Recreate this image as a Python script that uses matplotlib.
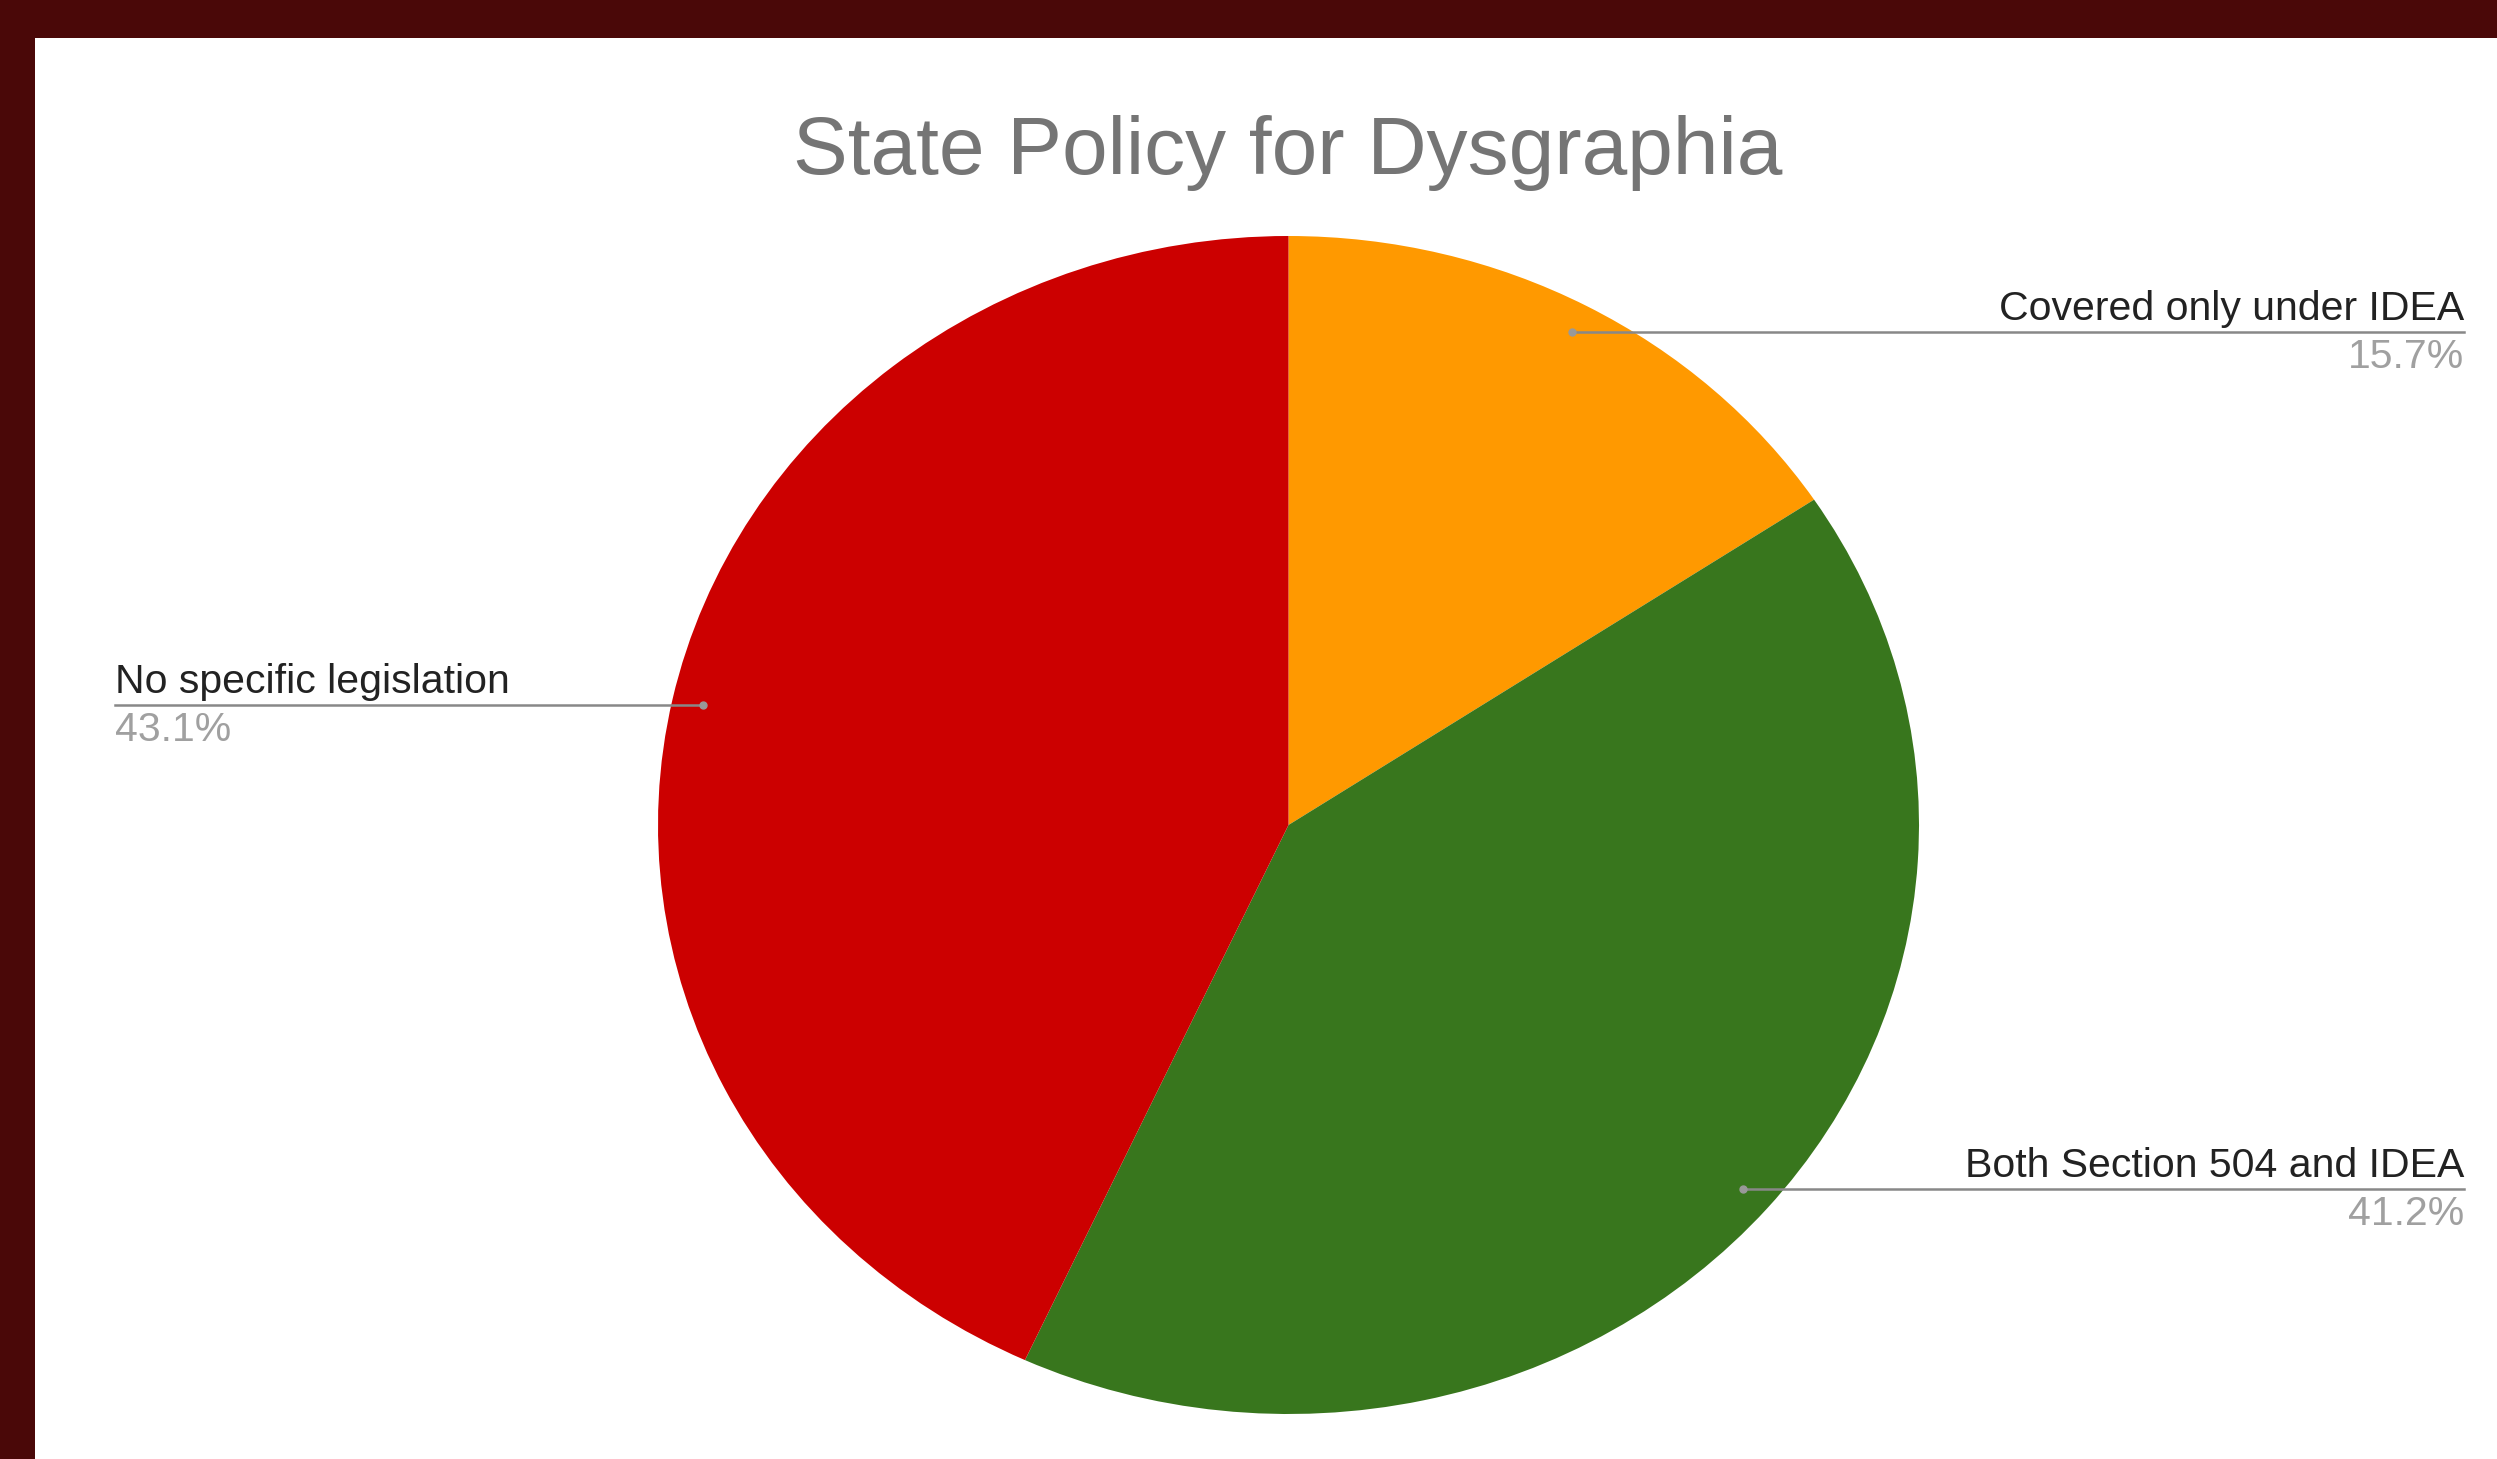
import numpy as np
import matplotlib.pyplot as plt
from matplotlib.patches import Rectangle

plt.rcParams['font.family'] = ['Liberation Sans', 'DejaVu Sans']

# states per category (51 total)
labels = ['Covered only under IDEA', 'Both Section 504 and IDEA', 'No specific legislation']
counts = [8, 21, 22]
colors = ['#ff9900', '#38761d', '#cc0000']

W, H = 2497, 1459
fig = plt.figure(figsize=(W / 100, H / 100), dpi=100)
fig.patch.set_facecolor('white')

# dark frame on top and left
fig.add_artist(Rectangle((0, 1 - 38 / H), 1, 38 / H, transform=fig.transFigure,
                         facecolor='#4a0808', edgecolor='none'))
fig.add_artist(Rectangle((0, 0), 35 / W, 1, transform=fig.transFigure,
                         facecolor='#4a0808', edgecolor='none'))

# pie is slightly stretched horizontally in the reference
ax = fig.add_axes([658 / W, 45 / H, 1261 / W, 1178 / H])
wedges, _ = ax.pie(counts, colors=colors, startangle=90, counterclock=False,
                   wedgeprops=dict(linewidth=0))
ax.set_aspect('auto')
ax.set_xlim(-1, 1)
ax.set_ylim(-1, 1)

total = sum(counts)
for w, lab, c in zip(wedges, labels, counts):
    mid = np.deg2rad((w.theta1 + w.theta2) / 2)
    px, py = 0.95 * np.cos(mid), 0.95 * np.sin(mid)
    if px >= 0:
        xe, ha = 1.865, 'right'
    else:
        xe, ha = -1.862, 'left'
    ax.plot([px, xe], [py, py], color='#888888', lw=1.8, clip_on=False)
    ax.plot(px, py, 'o', color='#999999', ms=5, clip_on=False)
    ax.annotate(lab, xy=(xe, py), xytext=(0, 3), textcoords='offset points',
                ha=ha, va='bottom', fontsize=29.5, color='#222222',
                annotation_clip=False)
    ax.annotate(f'{100 * c / total:.1f}%', xy=(xe, py), xytext=(0, -4),
                textcoords='offset points', ha=ha, va='top', fontsize=29.5,
                color='#a0a0a0', annotation_clip=False)

fig.text(1288 / W, 1 - 153 / H, 'State Policy for Dysgraphia', ha='center',
         va='center', fontsize=59, color='#757575')

fig.savefig('out.png', dpi=100)
